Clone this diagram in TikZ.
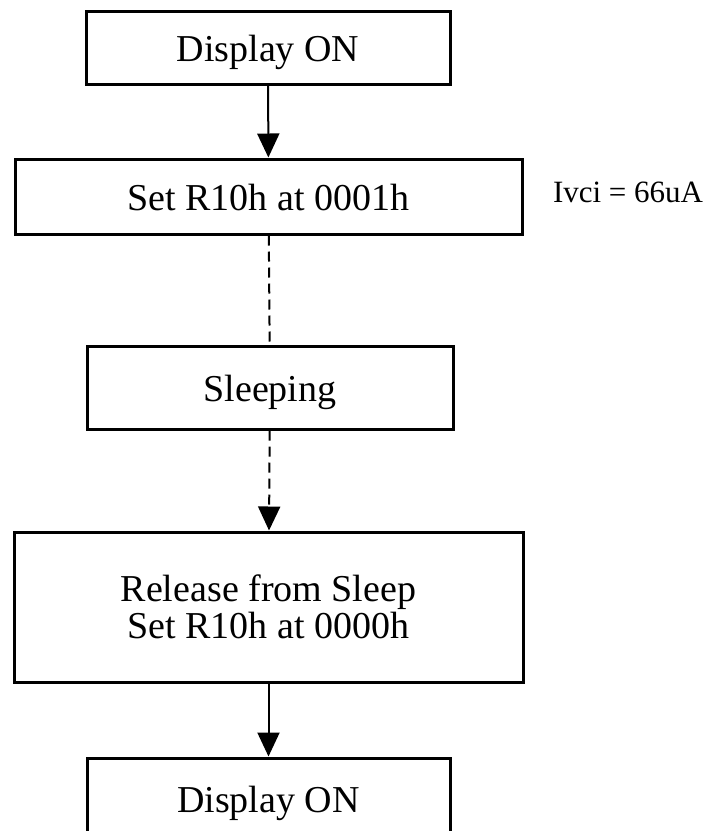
\documentclass[tikz,border=0pt]{standalone}
\usepackage{fontspec}
\setmainfont{Liberation Serif}
\usetikzlibrary{arrows.meta}

\begin{document}
\begin{tikzpicture}
  [x=0.5pt,y=-0.5pt,line width=1pt,
   frame/.style={draw,line width=1.5pt,inner sep=0pt,font=\fontsize{19}{18.5}\selectfont},
   box/.style={frame,text height=14pt,text depth=0pt},
   tallbox/.style={frame,align=center},
   flow/.style={-{Triangle[length=12pt,width=11pt]}},
   sleep/.style={dash pattern=on 5pt off 3pt}]
  \useasboundingbox (0,0) rectangle (707,831);
  \node[box,minimum width=182pt,minimum height=36.5pt] (a) at (268,47.5) {Display ON};
  \node[box,minimum width=253.5pt,minimum height=37.5pt] (b) at (268.5,196.5) {Set R10h at 0001h};
  \node[box,minimum width=183pt,minimum height=41.5pt] (c) at (270,387.5) {Sleeping};
  \node[tallbox,minimum width=254.5pt,minimum height=75pt] (d) at (268.5,607) {Release from Sleep\\Set R10h at 0000h};
  \node[box,minimum width=181.5pt,minimum height=40pt] (e) at (268.5,798) {Display ON};
  \node[anchor=base west,inner sep=0pt,font=\fontsize{15.5}{18}\selectfont] (f) at (552,202) {Ivci = 66uA};
  \foreach \from/\to in {a/b,d/e}
    \draw[flow] (\from) -- (\to);
  \draw[sleep] (b) -- (c);
  \draw[sleep,flow] (c) -- (d);
\end{tikzpicture}
\end{document}
